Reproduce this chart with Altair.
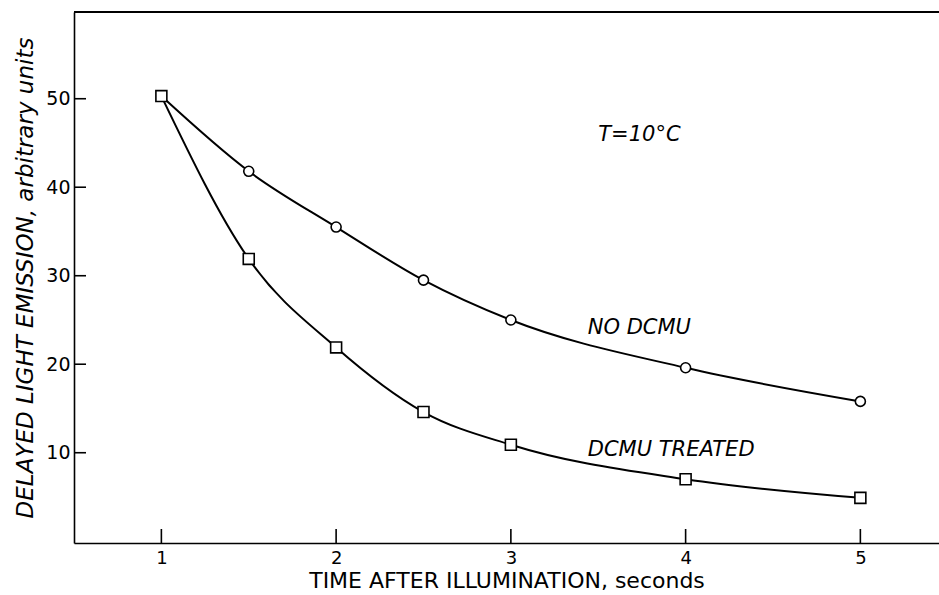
import altair as alt
import pandas as pd

# Delayed light emission after illumination (T = 10 °C)
time_s = [1, 1.5, 2, 2.5, 3, 4, 5]
no_dcmu = [50.3, 41.8, 35.5, 29.5, 25.0, 19.6, 15.8]
dcmu_treated = [50.3, 31.9, 21.9, 14.6, 10.9, 7.0, 4.9]

x_ticks = [1, 2, 3, 4, 5]
y_ticks = [10, 20, 30, 40, 50]

label_text = ["T=10°C", "NO DCMU", "DCMU TREATED"]
label_x = [3.50, 3.44, 3.44]
label_y = [45.9, 24.1, 10.3]

W, H = 865, 531
FONT = "DejaVu Sans"

curves = pd.DataFrame(
    {
        "time": time_s * 2,
        "emission": no_dcmu + dcmu_treated,
        "series": ["NO DCMU"] * len(time_s) + ["DCMU TREATED"] * len(time_s),
    }
)
circles = pd.DataFrame({"time": time_s[1:], "emission": no_dcmu[1:]})
squares = pd.DataFrame({"time": time_s, "emission": dcmu_treated})
labels = pd.DataFrame({"text": label_text, "time": label_x, "emission": label_y})
xt = pd.DataFrame({"t": x_ticks})
yt = pd.DataFrame({"v": y_ticks})

xs = alt.Scale(domain=[0.5, 5.45], nice=False, zero=False)
ys = alt.Scale(domain=[-0.2, 59.8], nice=False, zero=False)

x_axis = alt.Axis(
    values=x_ticks,
    format="d",
    title="TIME AFTER ILLUMINATION, seconds",
    titleFont=FONT,
    titleFontSize=22,
    titleFontWeight="normal",
    titleColor="black",
    titlePadding=3,
    labelFont=FONT,
    labelFontSize=18,
    labelColor="black",
    labelPadding=6,
    tickSize=0,
    grid=False,
    domainColor="black",
    domainWidth=1.6,
)
y_axis = alt.Axis(
    values=y_ticks,
    format="d",
    title="DELAYED LIGHT EMISSION, arbitrary units",
    titleFont=FONT,
    titleFontSize=23,
    titleFontWeight="normal",
    titleFontStyle="italic",
    titleColor="black",
    titlePadding=8,
    labelFont=FONT,
    labelFontSize=19,
    labelColor="black",
    labelPadding=4,
    tickSize=0,
    grid=False,
    domainColor="black",
    domainWidth=1.6,
)

lines = (
    alt.Chart(curves)
    .mark_line(color="black", strokeWidth=2, interpolate="monotone")
    .encode(
        x=alt.X("time:Q", scale=xs, axis=x_axis),
        y=alt.Y("emission:Q", scale=ys, axis=y_axis),
        detail="series:N",
    )
)

circle_pts = (
    alt.Chart(circles)
    .mark_point(shape="circle", filled=True, fill="white", stroke="black",
                strokeWidth=1.6, size=100, opacity=1)
    .encode(x=alt.X("time:Q", scale=xs), y=alt.Y("emission:Q", scale=ys))
)

square_pts = (
    alt.Chart(squares)
    .mark_point(shape="square", filled=True, fill="white", stroke="black",
                strokeWidth=1.6, size=120, opacity=1)
    .encode(x=alt.X("time:Q", scale=xs), y=alt.Y("emission:Q", scale=ys))
)

text = (
    alt.Chart(labels)
    .mark_text(font=FONT, fontStyle="italic", fontSize=21, align="left",
               baseline="middle", color="black")
    .encode(x=alt.X("time:Q", scale=xs), y=alt.Y("emission:Q", scale=ys), text="text:N")
)

# inward-pointing ticks on both axes
x_tick_marks = (
    alt.Chart(xt)
    .mark_rule(color="black", strokeWidth=1.6)
    .encode(x=alt.X("t:Q", scale=xs), y=alt.value(H), y2=alt.value(H - 14))
)
y_tick_marks = (
    alt.Chart(yt)
    .mark_rule(color="black", strokeWidth=1.6)
    .encode(y=alt.Y("v:Q", scale=ys), x=alt.value(0), x2=alt.value(12))
)

# top frame line
top_line = (
    alt.Chart(xt)
    .mark_rule(color="black", strokeWidth=1.8)
    .encode(x=alt.value(0), x2=alt.value(W), y=alt.value(0))
)

chart = (
    alt.layer(lines, circle_pts, square_pts, text, x_tick_marks, y_tick_marks, top_line)
    .properties(
        width=W,
        height=H,
        autosize="none",
        padding={"left": 74, "top": 12, "right": 0, "bottom": 52},
        background="white",
    )
    .configure_view(stroke=None)
)

chart.save("out.html", embed_options={"renderer": "svg", "actions": False})
